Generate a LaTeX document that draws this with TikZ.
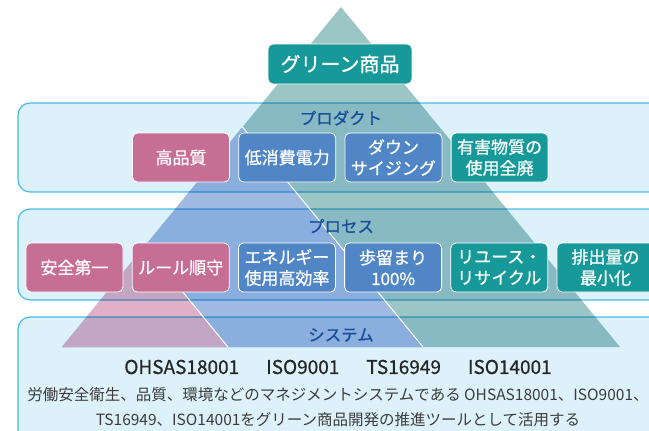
\documentclass[tikz,border=0pt]{standalone}
\usepackage{fontspec}
\setmainfont{Noto Sans CJK JP}
\newfontfamily\medfont[FakeBold=0.8]{Noto Sans CJK JP}
\usetikzlibrary{positioning}
\definecolor{greentri}{RGB}{156,197,198}
\definecolor{bluetri}{RGB}{160,185,225}
\definecolor{pinktri}{RGB}{224,176,200}
\definecolor{bandfill}{RGB}{221,241,251}
\definecolor{bandline}{RGB}{76,195,238}
\definecolor{labelblue}{RGB}{24,76,156}
\definecolor{greenfill}{RGB}{24,153,153}
\definecolor{bluefill}{RGB}{80,134,198}
\definecolor{pinkfill}{RGB}{199,110,149}
\definecolor{darktext}{RGB}{60,60,60}

\begin{document}
\begin{tikzpicture}[x=1pt, y=-1pt,
  band/.style={draw=bandline, fill=bandfill, line width=1.2pt, rounded corners=12pt, blend mode=multiply},
  edge/.style={draw=white, line width=1pt},
  box/.style={rectangle, rounded corners=5pt, draw=white, line width=0.8pt, minimum width=97pt, minimum height=49pt, inner sep=1pt, align=center, text=white, font=\medfont\fontsize{17}{21}\selectfont},
  pinkbox/.style={box, fill=pinkfill},
  bluebox/.style={box, fill=bluefill},
  greenbox/.style={box, fill=greenfill},
  bandlabel/.style={text=labelblue, font=\medfont\fontsize{16.5}{20}\selectfont},
  title/.style={rectangle, rounded corners=5pt, draw=white, line width=0.8pt, fill=greenfill, text=white, minimum width=144pt, minimum height=40pt, font=\medfont\fontsize{20}{24}\selectfont}
]
  \useasboundingbox (0,0) rectangle (649,431);
  \fill[white] (0,0) rectangle (649,431);

  % Pyramid
  \coordinate (top) at (341,7);
  \coordinate (midtop) at (242.5,127);
  \coordinate (lowtop) at (145,246);
  \coordinate (left) at (62,347);
  \coordinate (pinkend) at (228,347);
  \coordinate (blueend) at (423,347);
  \coordinate (right) at (620,347);
  \fill[greentri] (top) -- (left) -- (right) -- cycle;
  \fill[bluetri] (midtop) -- (left) -- (blueend) -- cycle;
  \fill[pinktri] (lowtop) -- (left) -- (pinkend) -- cycle;

  % Bands
  \draw[band] (18,103) rectangle (680,192);
  \draw[band] (18,209) rectangle (680,300);
  \draw[band] (18,317) rectangle (680,460);

  \draw[edge] (midtop) -- (blueend);
  \draw[edge] (lowtop) -- (pinkend);

  % Top
  \node[title] (green) at (340,64) {グリーン商品};

  % Product
  \node[bandlabel] (product) at (341,118) {プロダクト};
  \node[pinkbox] (quality) at (181,157.5) {高品質};
  \node[bluebox, right=8.4pt of quality] (power) {低消費電力};
  \node[bluebox, right=8.4pt of power] (downsize) {ダウン\\サイジング};
  \node[greenbox, right=8.4pt of downsize] (hazard) {有害物質の\\使用全廃};

  % Process
  \node[bandlabel] (process) at (341,226) {プロセス};
  \node[pinkbox] (safety) at (74.5,267.5) {安全第一};
  \node[pinkbox, right=8.4pt of safety] (rules) {ルール順守};
  \node[bluebox, right=8.4pt of rules] (energy) {エネルギー\\使用高効率};
  \node[bluebox, right=8.4pt of energy] (yield) {歩留まり\\100\%};
  \node[greenbox, right=8.4pt of yield] (recycle) {リユース・\\リサイクル};
  \node[greenbox, right=8.4pt of recycle] (emission) {排出量の\\最小化};

  % System
  \node[bandlabel] (system) at (341,335) {システム};
  \node[font=\medfont\fontsize{19}{23}\selectfont, text=black!85] (standards) at (338,367)
    {OHSAS18001\hspace{27pt}ISO9001\hspace{27pt}TS16949\hspace{27pt}ISO14001};
  \node[font=\fontsize{15.5}{25}\selectfont, text=darktext, align=center] (note) at (338,407)
    {労働安全衛生、品質、環境などのマネジメントシステムである OHSAS18001、ISO9001、\\TS16949、ISO14001をグリーン商品開発の推進ツールとして活用する};
\end{tikzpicture}
\end{document}
